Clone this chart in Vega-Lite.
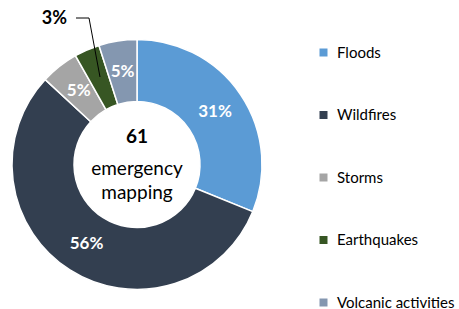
{
  "$schema": "https://vega.github.io/schema/vega-lite/v6.json",
  "width": 274,
  "height": 289,
  "padding": {"left": 0, "top": 20, "right": 185, "bottom": 0},
  "autosize": {"type": "none"},
  "background": "white",
  "config": {"view": {"stroke": null}, "font": "Lato"},
  "datasets": {
    "hazards": [
      {"rank": 1, "category": "Floods", "count": 19, "share": "31%"},
      {"rank": 2, "category": "Wildfires", "count": 34, "share": "56%"},
      {"rank": 3, "category": "Storms", "count": 3, "share": "5%"},
      {"rank": 4, "category": "Earthquakes", "count": 2, "share": "3%"},
      {"rank": 5, "category": "Volcanic activities", "count": 3, "share": "5%"}
    ],
    "leader": [
      {"step": 1, "px": -0.488, "py": 1.172},
      {"step": 2, "px": -0.384, "py": 1.172},
      {"step": 3, "px": -0.296, "py": 0.70}
    ]
  },
  "layer": [
    {
      "data": {"name": "hazards"},
      "mark": {"type": "arc", "innerRadius": 63, "outerRadius": 125, "stroke": "white", "strokeWidth": 1.5},
      "encoding": {
        "theta": {"field": "count", "type": "quantitative", "stack": true},
        "order": {"field": "rank", "type": "quantitative"},
        "color": {
          "field": "category",
          "type": "nominal",
          "sort": ["Floods", "Wildfires", "Storms", "Earthquakes", "Volcanic activities"],
          "scale": {
            "domain": ["Floods", "Wildfires", "Storms", "Earthquakes", "Volcanic activities"],
            "range": ["#5B9BD5", "#333F50", "#A5A5A5", "#375623", "#8497B0"]
          },
          "legend": {
            "orient": "none",
            "legendX": 316,
            "legendY": 25,
            "title": null,
            "symbolType": "square",
            "symbolSize": 64,
            "symbolStrokeWidth": 0,
            "labelFont": "Lato",
            "labelFontSize": 15,
            "labelColor": "#000000",
            "labelOffset": 6,
            "labelLimit": 200,
            "rowPadding": 46.5,
            "padding": 0
          }
        }
      }
    },
    {
      "data": {"name": "hazards"},
      "mark": {"type": "text", "radius": 94, "font": "Lato", "fontSize": 17, "fontWeight": "bold", "color": "white"},
      "encoding": {
        "theta": {"field": "count", "type": "quantitative", "stack": true},
        "order": {"field": "rank", "type": "quantitative"},
        "text": {"condition": {"test": "datum.category === 'Earthquakes'", "value": ""}, "field": "share"}
      }
    },
    {
      "data": {"name": "hazards"},
      "transform": [{"filter": "datum.category === 'Earthquakes'"}],
      "mark": {"type": "text", "align": "right", "baseline": "middle", "font": "Lato", "fontSize": 18, "fontWeight": "bold", "color": "#000000"},
      "encoding": {
        "x": {"datum": -0.56, "type": "quantitative", "scale": {"domain": [-1.096, 1.096], "nice": false, "zero": false}, "axis": null},
        "y": {"datum": 1.164, "type": "quantitative", "scale": {"domain": [-1.156, 1.156], "nice": false, "zero": false}, "axis": null},
        "text": {"field": "share"}
      }
    },
    {
      "data": {"name": "leader"},
      "mark": {"type": "line", "color": "#000000", "strokeWidth": 1},
      "encoding": {
        "x": {"field": "px", "type": "quantitative"},
        "y": {"field": "py", "type": "quantitative"},
        "order": {"field": "step", "type": "quantitative"}
      }
    },
    {
      "data": {"name": "hazards"},
      "transform": [{"aggregate": [{"op": "sum", "field": "count", "as": "total"}]}],
      "mark": {"type": "text", "align": "center", "baseline": "middle", "font": "Lato", "fontSize": 19, "fontWeight": "bold", "color": "#000000"},
      "encoding": {
        "x": {"datum": 0, "type": "quantitative"},
        "y": {"datum": 0.22, "type": "quantitative"},
        "text": {"field": "total"}
      }
    },
    {
      "data": {"name": "hazards"},
      "transform": [{"aggregate": [{"op": "sum", "field": "count", "as": "total"}]}],
      "mark": {"type": "text", "align": "center", "baseline": "middle", "font": "Lato", "fontSize": 19, "color": "#000000", "lineHeight": 24},
      "encoding": {
        "x": {"datum": 0, "type": "quantitative"},
        "y": {"datum": -0.034, "type": "quantitative"},
        "text": {"value": ["emergency", "mapping"]}
      }
    }
  ],
  "resolve": {"scale": {"theta": "independent"}}
}
